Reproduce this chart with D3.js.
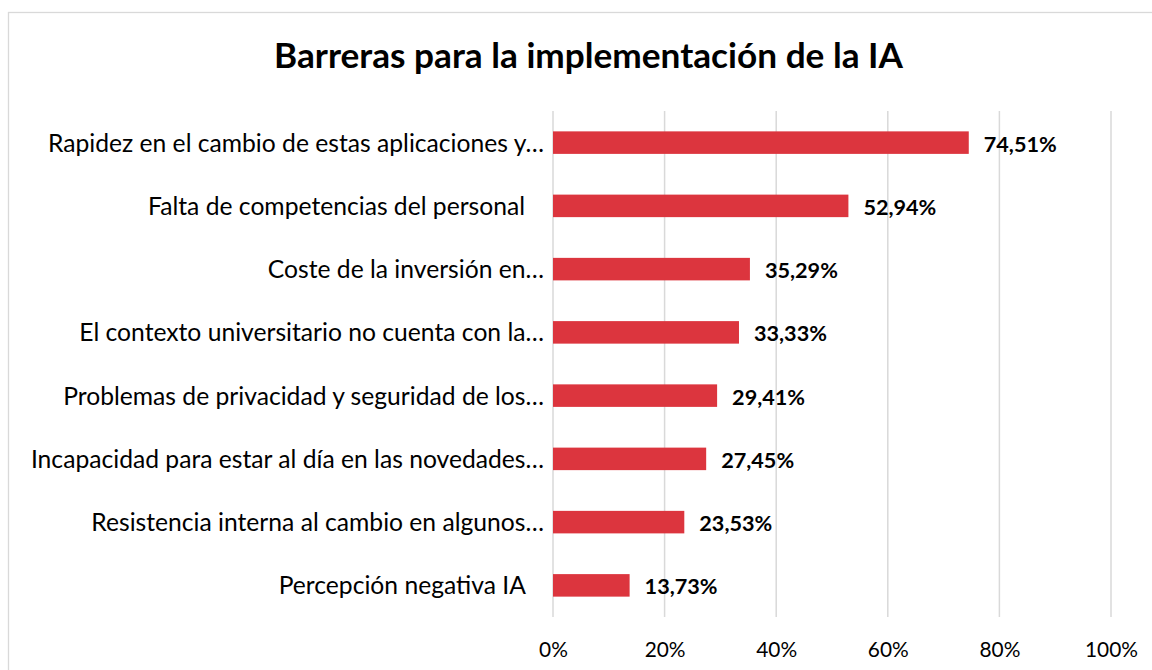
<!DOCTYPE html>
<html>
<head>
<meta charset="utf-8">
<script src="https://cdn.jsdelivr.net/npm/d3@7"></script>
<style>
  body { margin: 0; background: #fff; }
  svg { display: block; }
</style>
</head>
<body>
<div id="chart"></div>
<script>
'use strict';

var title = "Barreras para la implementación de la IA";

// two labels carry trailing blanks, as in the source sheet
var categories = [
  "Rapidez en el cambio de estas aplicaciones y…",
  "Falta de competencias del personal   ",
  "Coste de la inversión en…",
  "El contexto universitario no cuenta con la…",
  "Problemas de privacidad y seguridad de los…",
  "Incapacidad para estar al día en las novedades…",
  "Resistencia interna al cambio en algunos…",
  "Percepción negativa IA   "
];

var values = [74.51, 52.94, 35.29, 33.33, 29.41, 27.45, 23.53, 13.73];

var tickValues = [0, 20, 40, 60, 80, 100];

var FONT = "Lato, Calibri, 'Open Sans', sans-serif";
var W = 1152, H = 670;
var plot = {left: 553, right: 1111, top: 111, bottom: 617};

// size a font so the given text reaches the wanted width
var ctx = document.createElement("canvas").getContext("2d");
function fitSize(text, weight, target) {
  ctx.font = weight + " 100px " + FONT;
  return 100 * target / ctx.measureText(text).width;
}

var titleSize = fitSize(title, "bold", 629);
var labelSize = fitSize(categories[0], "normal", 497);
var valueSize = fitSize("74,51%", "bold", 73);
var tickSize = fitSize("100%", "normal", 53);

var svg = d3.select("#chart").append("svg")
    .attr("width", W)
    .attr("height", H);

// chart frame
svg.append("rect")
    .attr("x", 8.5).attr("y", 12.5)
    .attr("width", W + 10).attr("height", H + 10)
    .attr("fill", "none")
    .attr("stroke", "#d9d9d9")
    .attr("stroke-width", 1.3);

svg.append("text")
    .attr("x", 588.5)
    .attr("y", 68)
    .attr("text-anchor", "middle")
    .attr("font-family", FONT)
    .attr("font-weight", "bold")
    .attr("font-size", titleSize)
    .attr("fill", "#000")
    .text(title);

var x = d3.scaleLinear()
    .domain([0, 100])
    .range([plot.left, plot.right]);

var y = d3.scaleBand()
    .domain(categories)
    .range([plot.top, plot.bottom])
    .paddingInner(0.644)
    .paddingOuter(0.322);

// gridlines
svg.append("g")
    .selectAll("line")
    .data(tickValues)
    .enter().append("line")
    .attr("x1", d => x(d)).attr("x2", d => x(d))
    .attr("y1", plot.top).attr("y2", plot.bottom)
    .attr("stroke", "#d9d9d9")
    .attr("stroke-width", 1.5);

// x axis labels
var xAxis = d3.axisBottom(x)
    .tickValues(tickValues)
    .tickSize(0)
    .tickPadding(0)
    .tickFormat(d => d + "%");

svg.append("g")
    .attr("transform", "translate(0," + 657 + ")")
    .call(xAxis)
    .call(g => g.select(".domain").remove())
    .selectAll("text")
    .attr("dy", 0)
    .attr("font-family", FONT)
    .attr("font-size", tickSize)
    .attr("fill", "#000");

// category labels
var yAxis = d3.axisLeft(y).tickSize(0).tickPadding(0);
svg.append("g")
    .attr("transform", "translate(544,0)")
    .call(yAxis)
    .call(g => g.select(".domain").remove())
    .selectAll("text")
    .attr("dy", "0.36em")
    .attr("font-family", FONT)
    .attr("font-size", labelSize)
    .attr("fill", "#000")
    .style("white-space", "pre");

var rows = categories.map((c, i) => ({cat: c, val: values[i]}));

svg.append("g")
    .selectAll("rect")
    .data(rows)
    .enter().append("rect")
    .attr("x", x(0))
    .attr("y", d => y(d.cat))
    .attr("width", d => x(d.val) - x(0))
    .attr("height", y.bandwidth())
    .attr("fill", "#dc353e");

svg.append("g")
    .selectAll("text")
    .data(rows)
    .enter().append("text")
    .attr("x", d => x(d.val) + 15)
    .attr("y", d => y(d.cat) + y.bandwidth() / 2 + 9)
    .attr("font-family", FONT)
    .attr("font-weight", "bold")
    .attr("font-size", valueSize)
    .attr("fill", "#000")
    .text(d => d.val.toFixed(2).replace(".", ",") + "%");
</script>
</body>
</html>
